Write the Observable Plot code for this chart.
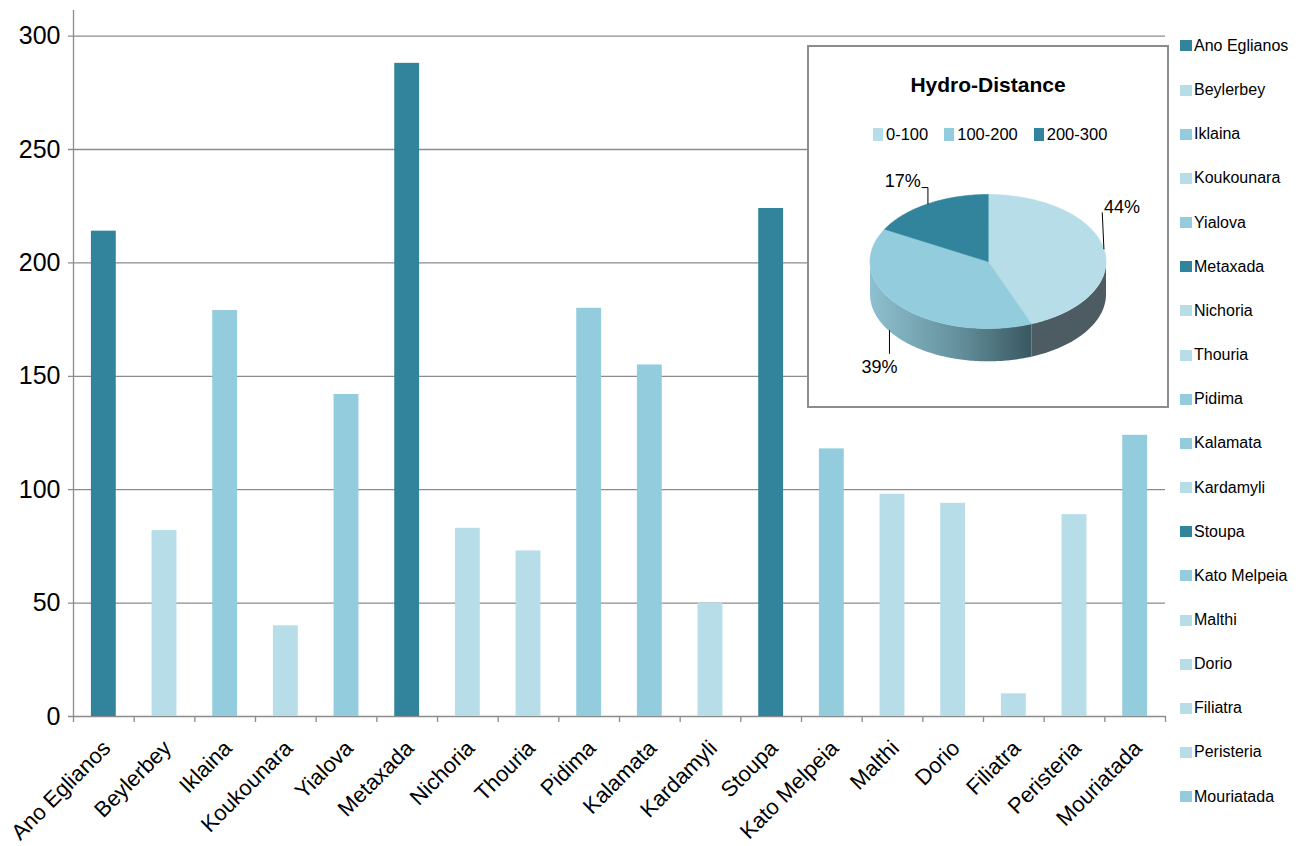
<!DOCTYPE html>
<html>
<head>
<meta charset="utf-8">
<script src="https://cdn.jsdelivr.net/npm/d3@7"></script>
<script src="https://cdn.jsdelivr.net/npm/@observablehq/plot@0.6"></script>
<style>
  html, body { margin: 0; padding: 0; background: #fff; }
  #wrap { position: relative; width: 1308px; height: 846px; overflow: hidden;
          font-family: "Liberation Sans", Arial, Helvetica, sans-serif; color: #000; }
  #main { position: absolute; left: 0; top: 0; }
  #sites { position: absolute; left: 1180px; top: 23.9px; }
  #sites .row { height: 44.16px; display: flex; align-items: center; font-size: 16px; white-space: nowrap; }
  #sites .sw { width: 12px; height: 11px; margin-right: 2px; flex: none; }
  #inset { position: absolute; left: 807px; top: 45px; width: 362px; height: 363px; box-sizing: border-box;
           border: 2px solid #8c8c8c; background: #fff; }
  #inset .title { position: absolute; left: 0; top: 27px; width: 358px; text-align: center;
                  font-size: 21px; font-weight: bold; line-height: 1; }
  #inset .keys { position: absolute; left: 64px; top: 81px; display: flex; align-items: center; gap: 16px;
                 font-size: 16.5px; line-height: 13px; }
  #inset .key { display: flex; align-items: center; }
  #inset .key .sw { width: 10px; height: 13px; margin-right: 3px; }
  #inset .pie { position: absolute; left: 0; top: 0; }
</style>
</head>
<body>
<div id="wrap">
  <div id="main"></div>
  <div id="inset">
    <div class="title"></div>
    <div class="keys"></div>
    <div class="pie"></div>
  </div>
  <div id="sites"></div>
</div>
<script>
// ---- data -------------------------------------------------------------
const categories = ["Ano Eglianos", "Beylerbey", "Iklaina", "Koukounara", "Yialova", "Metaxada",
  "Nichoria", "Thouria", "Pidima", "Kalamata", "Kardamyli", "Stoupa", "Kato Melpeia", "Malthi",
  "Dorio", "Filiatra", "Peristeria", "Mouriatada"];
const distances = [214, 82, 179, 40, 142, 288, 83, 73, 180, 155, 50, 224, 118, 98, 94, 10, 89, 124];
const yTicks = [0, 50, 100, 150, 200, 250, 300];
const yMax = 311.3;
const binLabels = ["0-100", "100-200", "200-300"];
const binBreaks = [100, 200];
const binShares = [44, 39, 17];
const pieTitle = "Hydro-Distance";

// ---- styling & layout ---------------------------------------------------
const FONT = '"Liberation Sans", Arial, Helvetica, sans-serif';
const palette = ["#b7dee8", "#93cddd", "#31849b"];
const GRID = "#8c8c8c";
const W = 1308, H = 846;
const M = {top: 10, right: 143, bottom: 130, left: 73};
const step = (W - M.left - M.right) / categories.length;
const plotH = H - M.top - M.bottom;
const tickLen = 6;

// ---- bar chart ---------------------------------------------------------
const rows = categories.map((name, i) => ({name, value: distances[i]}));

const chart = Plot.plot({
  width: W, height: H,
  marginTop: M.top, marginRight: M.right, marginBottom: M.bottom, marginLeft: M.left,
  style: {fontFamily: FONT, color: "#000", background: "transparent", overflow: "visible"},
  x: {type: "band", domain: categories, paddingInner: 0.59, paddingOuter: 0.295, round: false, label: null},
  y: {domain: [0, yMax], label: null},
  color: {type: "threshold", domain: binBreaks, range: palette},
  marks: [
    Plot.gridY({ticks: yTicks, stroke: GRID, strokeOpacity: 1, strokeWidth: 1.3, insetLeft: -5}),
    Plot.barY(rows, {x: "name", y: "value", fill: "value"}),
    // vertical axis line and category boundary ticks
    Plot.ruleX(categories.slice(0, 1), {x: d => d, dx: -step / 2, stroke: GRID, strokeWidth: 1.3, insetBottom: -tickLen}),
    Plot.ruleX(categories.slice(1), {x: d => d, dx: -step / 2, stroke: GRID, strokeWidth: 1.3, insetTop: plotH, insetBottom: -tickLen}),
    Plot.ruleX(categories.slice(-1), {x: d => d, dx: step / 2, stroke: GRID, strokeWidth: 1.3, insetTop: plotH, insetBottom: -tickLen}),
    Plot.axisY({ticks: yTicks, tickSize: 0, tickPadding: 13, fontSize: 25, label: null}),
    Plot.axisX({tickSize: 0, tickRotate: -45, tickPadding: 28, dx: 3, fontSize: 22, label: null})
  ]
});
document.getElementById("main").appendChild(chart);

// site legend, coloured through the chart's colour scale
const color = chart.scale("color");
const sites = d3.select("#sites");
rows.forEach(r => {
  const row = sites.append("div").attr("class", "row");
  row.append("div").attr("class", "sw").style("background", color.apply(r.value));
  row.append("span").text(r.name);
});

// ---- 3-D pie inset -------------------------------------------------------
const inset = d3.select("#inset");
inset.select(".title").text(pieTitle);

const pieRows = binLabels.map((label, i) => ({label, share: binShares[i]}));
const arcs = d3.pie().value(d => d.share).sort(null)(pieRows);
const depth = 0.49;                       // wall height, in units of the vertical radius
const rim = a => ({u: Math.sin(a), v: -Math.cos(a)});
const arcPoints = (a0, a1, dv = 0) => {
  const n = Math.max(2, Math.ceil(Math.abs(a1 - a0) / (Math.PI / 180)));
  return d3.range(n + 1).map(k => {
    const p = rim(a0 + (a1 - a0) * k / n);
    return {u: p.u, v: p.v + dv};
  });
};

const sideFill = ["#4c5c62", "url(#pie-side-mid)", "#255f6e"];
const tops = [], sides = [];
arcs.forEach((a, i) => {
  const label = a.data.label;
  tops.push({label, pts: [{u: 0, v: 0}, ...arcPoints(a.startAngle, a.endAngle)]});
  const s = Math.max(a.startAngle, Math.PI / 2), e = Math.min(a.endAngle, 3 * Math.PI / 2);
  if (s < e) sides.push({i, pts: [...arcPoints(s, e), ...arcPoints(e, s, depth)]});
});

// leader lines and percentage labels, one entry per slice in data order
// (offsets from the rim at each slice's mid-angle)
const leaderLayout = [
  {path: [[0, 0], [-0.014, -0.54]], at: [0.0, -0.63], anchor: "start"},
  {path: [[-0.085, 0.37], [-0.085, 0.71]], at: [-0.17, 0.92], anchor: "middle"},
  {path: [[0.0, 0.0], [0.0, -0.243], [-0.05, -0.243]], at: [-0.06, -0.33], anchor: "end"}
];
const leaders = [], labels = [];
arcs.forEach((a, i) => {
  const r = rim((a.startAngle + a.endAngle) / 2);
  const L = leaderLayout[i];
  L.path.forEach(([du, dv]) => leaders.push({k: i, u: r.u + du, v: r.v + dv}));
  labels.push({text: `${a.data.share}%`, u: r.u + L.at[0], v: r.v + L.at[1], anchor: L.anchor});
});

const pieMarks = [];
sides.forEach(s => pieMarks.push(Plot.line(s.pts, {x: "u", y: "v", fill: sideFill[s.i], stroke: "none", curve: "linear-closed"})));
tops.forEach(t => pieMarks.push(Plot.line(t.pts, {x: "u", y: "v", fill: () => t.label, stroke: () => t.label, strokeWidth: 0.6, curve: "linear-closed"})));
pieMarks.push(Plot.line(leaders, {x: "u", y: "v", z: "k", stroke: "#000", strokeWidth: 1}));
["start", "end", "middle"].forEach(anchor => pieMarks.push(
  Plot.text(labels.filter(d => d.anchor === anchor), {x: "u", y: "v", text: "text", textAnchor: anchor, fontSize: 18, fill: "#000"})
));

const pie = Plot.plot({
  width: 358, height: 359,
  margin: 0,
  style: {fontFamily: FONT, background: "transparent", overflow: "visible"},
  x: {domain: [-1, 1], range: [60.5, 296.5], axis: null},
  y: {domain: [-1, 1], range: [147, 281], axis: null},
  color: {type: "ordinal", domain: binLabels, range: palette},
  marks: pieMarks
});
d3.select(pie).insert("defs", ":first-child").html(
  `<linearGradient id="pie-side-mid" x1="0" x2="1" y1="0" y2="0">
     <stop offset="0" stop-color="#8fc0cf"/>
     <stop offset="0.55" stop-color="#63909c"/>
     <stop offset="1" stop-color="#3a5861"/>
   </linearGradient>`);
inset.select(".pie").node().appendChild(pie);

// pie key, coloured through the pie's colour scale
const pieColor = pie.scale("color");
const keys = inset.select(".keys");
binLabels.forEach(label => {
  const k = keys.append("div").attr("class", "key");
  k.append("div").attr("class", "sw").style("background", pieColor.apply(label));
  k.append("span").text(label);
});
</script>
</body>
</html>
